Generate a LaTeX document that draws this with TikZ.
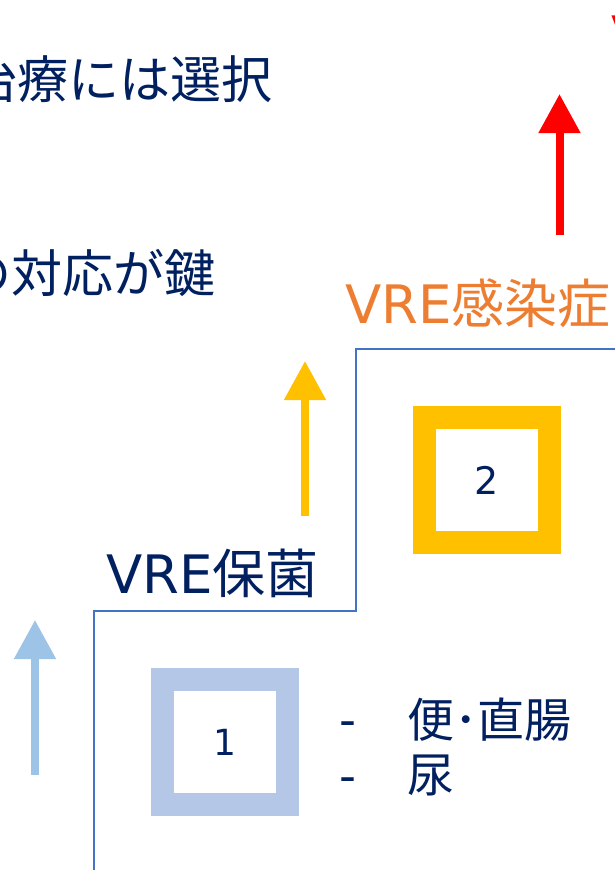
\documentclass[tikz,border=0pt]{standalone}
\usepackage{fontspec}
\setmainfont{DejaVu Sans}
\newfontfamily\cjk{Noto Sans CJK JP}
\usetikzlibrary{arrows.meta}
\definecolor{navy}{HTML}{002060}
\definecolor{orangetxt}{HTML}{ED7D31}
\definecolor{gold}{HTML}{FFC000}
\definecolor{sqblue}{HTML}{B4C7E7}
\definecolor{arrowblue}{HTML}{9DC3E6}
\definecolor{lineblue}{HTML}{4472C4}
\definecolor{redarrow}{HTML}{FF0000}
\begin{document}
\begin{tikzpicture}[x=1pt,y=-1pt,
  txt/.style={inner sep=0pt, outer sep=0pt, text=navy},
  numbox/.style={draw, line width=23pt, minimum width=125pt, minimum height=125pt, inner sep=0pt, text=navy},
  uparrow/.style={line width=8pt, -{Triangle[width=40pt,length=39pt]}},
  stair/.style={draw=lineblue, line width=2pt}]
\path[use as bounding box, fill=white] (0,0) rectangle (615,870);
\clip (0,0) rectangle (615,870);

% staircase line
\coordinate (s0) at (94,876);
\coordinate (s1) at (94,611);
\coordinate (s2) at (356,611);
\coordinate (s3) at (356,349);
\coordinate (s4) at (622,349);
\draw[stair] (s0) -- (s1) -- (s2) -- (s3) -- (s4);

% arrows
\coordinate (a1s) at (35,775);
\coordinate (a1e) at (35,620);
\draw[uparrow, color=arrowblue] (a1s) -- (a1e);
\coordinate (a2s) at (305,516);
\coordinate (a2e) at (305,361);
\draw[uparrow, color=gold] (a2s) -- (a2e);
\coordinate (a3s) at (559.5,235);
\coordinate (a3e) at (559.5,94);
\draw[uparrow, color=redarrow] (a3s) -- (a3e);

% numbered squares
\node[numbox, draw=sqblue, font=\fontsize{36}{40}\selectfont] (n1) at (225,742) {1};
\node[numbox, draw=gold, font=\fontsize{38}{44}\selectfont] (n2) at (487,480) {2};

% texts
\node[txt, anchor=base east, font=\cjk\fontsize{51}{60}\selectfont] (t1) at (273,98) {治療には選択};
\node[txt, anchor=base east, font=\cjk\fontsize{51}{60}\selectfont] (t2) at (216,292) {の対応が鍵};
\node[txt, anchor=base west, text=orangetxt, font=\fontsize{53}{60}\selectfont] (t3) at (345,323) {VRE{\cjk 感染症}};
\node[txt, anchor=base west, font=\fontsize{53}{60}\selectfont] (t4) at (106,593) {VRE{\cjk 保菌}};
\node[txt, anchor=base west, text=redarrow, font=\fontsize{53}{60}\selectfont] (t5) at (611,54) {V};

% list
\node[txt, anchor=base west, font=\fontsize{47}{50}\selectfont] (d1) at (339,736) {-};
\node[txt, anchor=base west, font=\fontsize{47}{50}\selectfont] (d2) at (339,792) {-};
\node[txt, anchor=base west, font=\cjk\fontsize{47}{50}\selectfont] (l1) at (407,737) {便･直腸};
\node[txt, anchor=base west, font=\cjk\fontsize{47}{50}\selectfont] (l2) at (407,792) {尿};
\end{tikzpicture}
\end{document}
